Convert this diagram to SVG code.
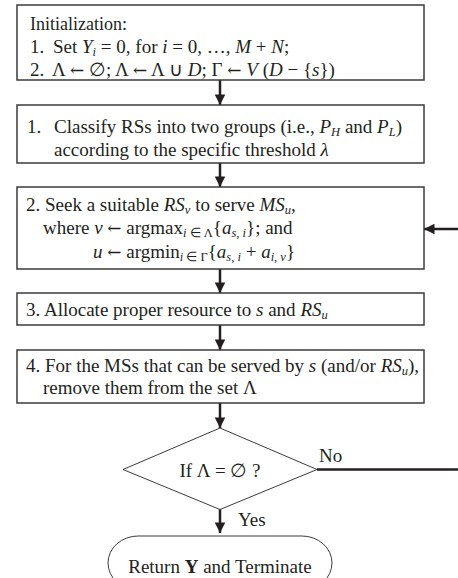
<svg xmlns="http://www.w3.org/2000/svg" width="458" height="578" viewBox="0 0 458 578">
<defs>
<style>
.box{fill:#fff;stroke:#3b3b3b;stroke-width:1.5}
.dia{fill:#fff;stroke:#3b3b3b;stroke-width:1}
.t{font-family:"Liberation Serif","Times New Roman",serif;font-size:19px;fill:#231f20}
.i{font-style:italic}
.b{font-weight:bold}
.s{font-size:12.5px}
.ar{font-family:"DejaVu Serif",serif;font-size:17px}
.c{stroke:#231f20;stroke-width:2.5;fill:none}
</style>
<marker id="ah" viewBox="0 0 10 10" refX="10" refY="5" markerWidth="4.6" markerHeight="4.2" markerUnits="strokeWidth" orient="auto">
<path d="M0,0 L10,5 L0,10 z" fill="#231f20"/>
</marker>
</defs>
<rect width="458" height="578" fill="#fff"/>
<g id="connectors">
<line class="c" x1="220" y1="80" x2="220" y2="105" marker-end="url(#ah)"/>
<line class="c" x1="220" y1="163" x2="220" y2="187" marker-end="url(#ah)"/>
<line class="c" x1="220" y1="269" x2="220" y2="293" marker-end="url(#ah)"/>
<line class="c" x1="220" y1="325" x2="220" y2="350" marker-end="url(#ah)"/>
<line class="c" x1="220" y1="403" x2="220" y2="428" marker-end="url(#ah)"/>
<line class="c" x1="220" y1="509" x2="220" y2="533" marker-end="url(#ah)"/>
<line class="c" x1="317" y1="469.5" x2="460" y2="469.5"/>
<line class="c" x1="460" y1="229" x2="424" y2="229" marker-end="url(#ah)"/>
<text class="t" x="319" y="462">No</text>
<text class="t" x="238" y="526">Yes</text>
</g>
<g id="init">
<rect class="box" x="17" y="5" width="407" height="75"/>
<text class="t" x="30" y="29.5" style="font-size:18px">Initialization:</text>
<text class="t" x="30" y="53">1.</text>
<text class="t" x="53" y="53">Set <tspan class="i">Y</tspan><tspan class="i s" dy="3">i</tspan><tspan dy="-3"> = 0, for </tspan><tspan class="i">i</tspan> = 0, …, <tspan class="i">M</tspan> + <tspan class="i">N</tspan>;</text>
<text class="t" x="30" y="76">2.</text>
<text class="t" x="52" y="76">Λ <tspan class="ar">←</tspan> ∅; Λ <tspan class="ar">←</tspan> Λ ∪ <tspan class="i">D</tspan>; Γ <tspan class="ar">←</tspan> <tspan class="i">V</tspan> (<tspan class="i">D</tspan> − {<tspan class="i">s</tspan>})</text>
</g>
<g id="classify">
<rect class="box" x="17" y="105" width="407" height="58"/>
<text class="t" x="27" y="133">1.</text>
<text class="t" x="54" y="133">Classify RSs into two groups (i.e., <tspan class="i">P</tspan><tspan class="i s" dy="3">H</tspan><tspan dy="-3"> and </tspan><tspan class="i">P</tspan><tspan class="i s" dy="3">L</tspan><tspan dy="-3">)</tspan></text>
<text class="t" x="54" y="156">according to the specific threshold <tspan class="i">λ</tspan></text>
</g>
<g id="seek">
<rect class="box" x="17" y="187" width="407" height="82"/>
<text class="t" x="26" y="210.5">2. Seek a suitable <tspan class="i">RS</tspan><tspan class="i s" dy="3">v</tspan><tspan dy="-3"> to serve </tspan><tspan class="i">MS</tspan><tspan class="i s" dy="3">u</tspan><tspan dy="-3">,</tspan></text>
<text class="t" x="43" y="234">where <tspan class="i">v</tspan> <tspan class="ar">←</tspan> argmax<tspan class="s" dy="3"><tspan class="i">i</tspan> ∈ Λ</tspan><tspan dy="-3">{</tspan><tspan class="i">a</tspan><tspan class="i s" dy="3">s, i</tspan><tspan dy="-3">}; and</tspan></text>
<text class="t" x="93" y="258"><tspan class="i">u</tspan> <tspan class="ar">←</tspan> argmin<tspan class="s" dy="3"><tspan class="i">i</tspan> ∈ Γ</tspan><tspan dy="-3">{</tspan><tspan class="i">a</tspan><tspan class="i s" dy="3">s, i</tspan><tspan dy="-3"> + </tspan><tspan class="i">a</tspan><tspan class="i s" dy="3">i, v</tspan><tspan dy="-3">}</tspan></text>
</g>
<g id="allocate">
<rect class="box" x="17" y="293" width="407" height="32"/>
<text class="t" x="26" y="316">3. Allocate proper resource to <tspan class="i">s</tspan> and <tspan class="i">RS</tspan><tspan class="i s" dy="3">u</tspan></text>
</g>
<g id="remove">
<rect class="box" x="17" y="350" width="407" height="53"/>
<text class="t" x="26" y="371.5">4. For the MSs that can be served by <tspan class="i">s</tspan> (and/or <tspan class="i">RS</tspan><tspan class="i s" dy="3">u</tspan><tspan dy="-3">),</tspan></text>
<text class="t" x="43" y="394">remove them from the set Λ</text>
</g>
<g id="decision">
<polygon class="dia" points="220,428 317,469.5 220,509.5 123,469.5"/>
<text class="t" x="220" y="477" text-anchor="middle">If Λ = ∅ ?</text>
</g>
<g id="terminate">
<rect class="dia" x="108" y="536" width="224" height="54" rx="30" ry="27"/>
<text class="t" x="220" y="573" text-anchor="middle">Return <tspan class="b">Y</tspan> and Terminate</text>
</g>
</svg>
